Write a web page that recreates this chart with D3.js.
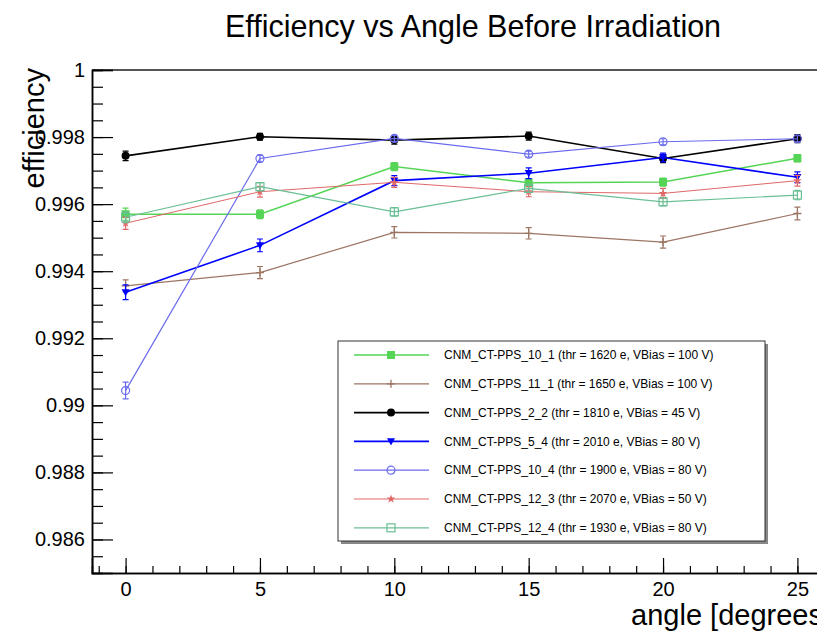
<!DOCTYPE html>
<html>
<head>
<meta charset="utf-8">
<script src="https://cdn.jsdelivr.net/npm/d3@7"></script>
<style>
  body { margin: 0; background: #fff; }
  svg { font-family: "Liberation Sans", Arial, Helvetica, sans-serif; }
</style>
</head>
<body>
<script>
var width = 817;
var height = 631;

// data
var angles = [0, 5, 10, 15, 20, 25];

var seriesNames = [
    "CNM_CT-PPS_10_1 (thr = 1620 e, VBias = 100 V)",
    "CNM_CT-PPS_11_1 (thr = 1650 e, VBias = 100 V)",
    "CNM_CT-PPS_2_2 (thr = 1810 e, VBias = 45 V)",
    "CNM_CT-PPS_5_4 (thr = 2010 e, VBias = 80 V)",
    "CNM_CT-PPS_10_4 (thr = 1900 e, VBias = 80 V)",
    "CNM_CT-PPS_12_3 (thr = 2070 e, VBias = 50 V)",
    "CNM_CT-PPS_12_4 (thr = 1930 e, VBias = 80 V)"
];

var eff_10_1 = [0.99570, 0.99570, 0.99712, 0.99664, 0.99666, 0.99737];
var eff_11_1 = [0.99356, 0.99396, 0.99516, 0.99513, 0.99487, 0.99572];
var eff_2_2  = [0.99744, 0.99801, 0.99791, 0.99803, 0.99736, 0.99795];
var eff_5_4  = [0.99337, 0.99477, 0.99670, 0.99692, 0.99739, 0.99680];
var eff_10_4 = [0.99044, 0.99736, 0.99796, 0.99749, 0.99786, 0.99795];
var eff_12_3 = [0.99543, 0.99637, 0.99665, 0.99637, 0.99632, 0.99670];
var eff_12_4 = [0.99561, 0.99652, 0.99577, 0.99647, 0.99607, 0.99627];

var err_10_1 = [0.00018, 0.00013, 0.00012, 0.00012, 0.00012, 0.00011];
var err_11_1 = [0.00018, 0.00018, 0.00017, 0.00017, 0.00018, 0.00019];
var err_2_2  = [0.00014, 0.00010, 0.00012, 0.00012, 0.00012, 0.00012];
var err_5_4  = [0.00022, 0.00019, 0.00015, 0.00016, 0.00013, 0.00016];
var err_10_4 = [0.00025, 0.00010, 0.00009, 0.00009, 0.00009, 0.00009];
var err_12_3 = [0.00018, 0.00016, 0.00015, 0.00015, 0.00015, 0.00016];
var err_12_4 = [0.00016, 0.00012, 0.00013, 0.00012, 0.00012, 0.00014];

var yMajorTicks = [0.986, 0.988, 0.99, 0.992, 0.994, 0.996, 0.998, 1];
var xMajorTicks = [0, 5, 10, 15, 20, 25];

var series = [
    { name: seriesNames[0], values: eff_10_1, errors: err_10_1, color: "#55d455", marker: "square", lw: 1.5 },
    { name: seriesNames[1], values: eff_11_1, errors: err_11_1, color: "#9c7563", marker: "plus", lw: 1.2 },
    { name: seriesNames[2], values: eff_2_2, errors: err_2_2, color: "#000000", marker: "circle", lw: 1.6 },
    { name: seriesNames[3], values: eff_5_4, errors: err_5_4, color: "#0000ff", marker: "triangle", lw: 1.6 },
    { name: seriesNames[4], values: eff_10_4, errors: err_10_4, color: "#6a6aee", marker: "ocircle", lw: 1.2 },
    { name: seriesNames[5], values: eff_12_3, errors: err_12_3, color: "#e06868", marker: "star", lw: 1 },
    { name: seriesNames[6], values: eff_12_4, errors: err_12_4, color: "#6abf95", marker: "osquare", lw: 1.2 }
];

var svg = d3.select("body").append("svg")
    .attr("width", width)
    .attr("height", height);

var xScale = d3.scaleLinear()
    .domain([-1.25, 26.25])
    .range([92, 831]);

var yScale = d3.scaleLinear()
    .domain([0.985, 1.0])
    .range([573, 70]);

// title
svg.append("text")
    .attr("x", 473)
    .attr("y", 37)
    .attr("text-anchor", "middle")
    .style("font-size", "30.5px")
    .text("Efficiency vs Angle Before Irradiation");

// top frame line
svg.append("line")
    .attr("x1", 92).attr("x2", 831)
    .attr("y1", 70).attr("y2", 70)
    .attr("stroke", "#555")
    .attr("stroke-width", 2);

// y axis
var yMinor = d3.range(0.9855, 1.0001, 0.0005);
svg.append("g")
    .attr("class", "axis")
    .attr("transform", "translate(92,0)")
    .call(d3.axisLeft(yScale).tickValues(yMinor).tickSize(-11).tickFormat(""));

svg.append("g")
    .attr("class", "axis")
    .attr("transform", "translate(92,0)")
    .call(d3.axisLeft(yScale)
        .tickValues(yMajorTicks)
        .tickSize(-21)
        .tickPadding(7)
        .tickFormat(function(d) { return String(+d.toFixed(3)); }));

// x axis
var xMinor = d3.range(-1, 27, 1);
svg.append("g")
    .attr("class", "axis")
    .attr("transform", "translate(0,573)")
    .call(d3.axisBottom(xScale).tickValues(xMinor).tickSize(-7).tickFormat(""));

svg.append("g")
    .attr("class", "axis")
    .attr("transform", "translate(0,573)")
    .call(d3.axisBottom(xScale)
        .tickValues(xMajorTicks)
        .tickSize(-15)
        .tickPadding(9)
        .tickFormat(function(d) { return d; }));

svg.selectAll(".axis .domain")
    .attr("stroke", "#000")
    .attr("stroke-width", 1.5);
svg.selectAll(".axis .tick line")
    .attr("stroke", "#000")
    .attr("stroke-width", 1.2);
svg.selectAll(".axis text")
    .attr("fill", "#000")
    .style("font-size", "20px")
    .style("font-family", "'Liberation Sans', Arial, sans-serif");

// axis titles
svg.append("text")
    .attr("transform", "translate(44,68) rotate(-90)")
    .attr("text-anchor", "end")
    .style("font-size", "29px")
    .text("efficiency");

svg.append("text")
    .attr("x", 831)
    .attr("y", 625)
    .attr("text-anchor", "end")
    .style("font-size", "29px")
    .text("angle [degrees]");

// markers
function drawMarker(g, type, color, cx, cy, s) {
    if (type == "square") {
        g.append("rect")
            .attr("x", cx - s / 2).attr("y", cy - s / 2)
            .attr("width", s).attr("height", s)
            .attr("fill", color);
    } else if (type == "osquare") {
        g.append("rect")
            .attr("x", cx - s / 2).attr("y", cy - s / 2)
            .attr("width", s).attr("height", s)
            .attr("fill", "none").attr("stroke", color).attr("stroke-width", 1.2);
    } else if (type == "circle") {
        g.append("circle")
            .attr("cx", cx).attr("cy", cy).attr("r", s / 2)
            .attr("fill", color);
    } else if (type == "ocircle") {
        g.append("circle")
            .attr("cx", cx).attr("cy", cy).attr("r", s / 2)
            .attr("fill", "none").attr("stroke", color).attr("stroke-width", 1.2);
    } else if (type == "triangle") {
        g.append("path")
            .attr("d", "M" + (cx - s / 2) + "," + (cy - s / 2.5) + "L" + (cx + s / 2) + "," + (cy - s / 2.5) + "L" + cx + "," + (cy + s / 2) + "Z")
            .attr("fill", color);
    } else if (type == "plus") {
        g.append("path")
            .attr("d", "M" + (cx - s / 2) + "," + cy + "H" + (cx + s / 2) + "M" + cx + "," + (cy - s / 2) + "V" + (cy + s / 2))
            .attr("stroke", color).attr("stroke-width", 1.3);
    } else if (type == "star") {
        g.append("path")
            .attr("transform", "translate(" + cx + "," + cy + ")")
            .attr("d", d3.symbol().type(d3.symbolStar).size(s * 3)())
            .attr("fill", color);
    }
}

var line = d3.line()
    .x(function(d) { return xScale(d.angle); })
    .y(function(d) { return yScale(d.value); });

series.forEach(function(s) {
    var pts = angles.map(function(a, i) {
        return { angle: a, value: s.values[i], err: s.errors[i] };
    });
    var g = svg.append("g");

    g.append("path")
        .datum(pts)
        .attr("d", line)
        .attr("fill", "none")
        .attr("stroke", s.color)
        .attr("stroke-width", s.lw);

    pts.forEach(function(p) {
        var px = xScale(p.angle);
        var y1 = yScale(p.value - p.err);
        var y2 = yScale(p.value + p.err);
        g.append("path")
            .attr("d", "M" + px + "," + y1 + "V" + y2 +
                "M" + (px - 3) + "," + y1 + "H" + (px + 3) +
                "M" + (px - 3) + "," + y2 + "H" + (px + 3))
            .attr("fill", "none")
            .attr("stroke", s.color)
            .attr("stroke-width", 1.2);
        drawMarker(g, s.marker, s.color, px, yScale(p.value), 8);
    });
});

// legend
var legX = 338, legY = 341, legW = 427, legH = 200;
svg.append("rect")
    .attr("x", legX + 3).attr("y", legY + 3)
    .attr("width", legW).attr("height", legH)
    .attr("fill", "#888");
svg.append("rect")
    .attr("x", legX).attr("y", legY)
    .attr("width", legW).attr("height", legH)
    .attr("fill", "#fff")
    .attr("stroke", "#333")
    .attr("stroke-width", 1);

var legend = svg.selectAll(".legend")
    .data(series)
    .enter().append("g")
    .attr("class", "legend")
    .attr("transform", function(d, i) {
        return "translate(0," + (legY + 14 + i * 28.8) + ")";
    });

legend.append("line")
    .attr("x1", 354).attr("x2", 429)
    .attr("y1", 0).attr("y2", 0)
    .attr("stroke", function(d) { return d.color; })
    .attr("stroke-width", function(d) { return d.lw; });

legend.each(function(d) {
    drawMarker(d3.select(this), d.marker, d.color, 391, 0, 8);
});

legend.append("text")
    .attr("x", 444)
    .attr("y", 0)
    .attr("dy", ".35em")
    .style("font-size", "12px")
    .attr("fill", "#000")
    .text(function(d) { return d.name; });
</script>
</body>
</html>
